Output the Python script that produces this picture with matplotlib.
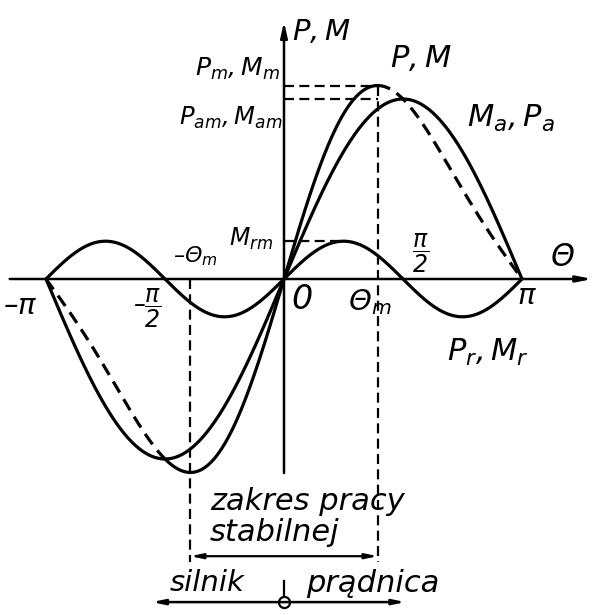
import numpy as np
import matplotlib
matplotlib.use("Agg")
import matplotlib.pyplot as plt

# Amplitudes of the two torque / power components (per unit of M_am)
m_am = 1.0    # main (excitation) component M_a = M_am sin(theta)
m_rm = 0.21   # reluctance component   M_r = M_rm sin(2 theta)

theta = np.linspace(-np.pi, np.pi, 1441)
m_a = m_am * np.sin(theta)
m_r = m_rm * np.sin(2 * theta)
p_tot = m_a + m_r

# angle of maximum of the resulting characteristic
c = (-m_am + np.sqrt(m_am ** 2 + 32 * m_rm ** 2)) / (8 * m_rm)
theta_m = np.arccos(c)
p_m = m_am * np.sin(theta_m) + m_rm * np.sin(2 * theta_m)

plt.rcParams["mathtext.fontset"] = "custom"
plt.rcParams["mathtext.it"] = "DejaVu Sans:italic"
plt.rcParams["mathtext.rm"] = "DejaVu Sans:italic"
plt.rcParams["font.family"] = "DejaVu Sans"

fig = plt.figure(figsize=(5.94, 6.15), dpi=100)
ax = fig.add_axes([0, 0, 1, 1])
ax.set_xlim(-3.7487, 4.092)
ax.set_ylim(-1.8667, 1.55)
ax.axis("off")

K = "black"
LW = 2.3
curve_dash = (0, (4.0, 2.4))
guide_dash = (0, (4.5, 2.4))

# coordinate axes
ax.annotate("", xy=(4.07, 0), xytext=(-3.62, 0),
            arrowprops=dict(arrowstyle="-|>,head_length=0.9,head_width=0.18",
                            lw=1.8, color=K, shrinkA=0, shrinkB=0))
ax.annotate("", xy=(0, 1.43), xytext=(0, -1.078),
            arrowprops=dict(arrowstyle="-|>,head_length=0.9,head_width=0.2",
                            lw=1.8, color=K, shrinkA=0, shrinkB=0))

# component characteristics
ax.plot(theta, m_a, color=K, lw=LW, solid_capstyle="round")
ax.plot(theta, m_r, color=K, lw=LW, solid_capstyle="round")

# resulting characteristic: solid in the stable part, dashed elsewhere
stable = (theta >= -np.pi / 2) & (theta <= theta_m)
left = theta <= -np.pi / 2
right = theta >= theta_m
ax.plot(theta[stable], p_tot[stable], color=K, lw=LW, solid_capstyle="round")
ax.plot(theta[left], p_tot[left], color=K, lw=LW, ls=curve_dash)
ax.plot(theta[right], p_tot[right], color=K, lw=LW, ls=curve_dash)

# guide lines
GL = 1.6
ax.plot([0, theta_m], [p_m, p_m], color=K, lw=GL, ls=guide_dash)
ax.plot([0, theta_m], [m_am, m_am], color=K, lw=GL, ls=guide_dash)
ax.plot([0, np.pi / 4], [m_rm, m_rm], color=K, lw=GL, ls=guide_dash)
ax.plot([theta_m, theta_m], [p_m, -1.575], color=K, lw=GL, ls=guide_dash)
ax.plot([-theta_m, -theta_m], [0, -1.575], color=K, lw=GL, ls=guide_dash)

# range of stable operation
ax.annotate("", xy=(theta_m, -1.54), xytext=(-theta_m, -1.54),
            arrowprops=dict(arrowstyle="<|-|>,head_length=0.7,head_width=0.15",
                            lw=1.6, color=K, shrinkA=0, shrinkB=0))

# motor / generator regions
ax.annotate("", xy=(1.60, -1.795), xytext=(-1.74, -1.795),
            arrowprops=dict(arrowstyle="<|-|>,head_length=0.7,head_width=0.15",
                            lw=1.8, color=K, shrinkA=0, shrinkB=0))
ax.plot([0, 0], [-1.68, -1.77], color=K, lw=1.6)
ax.plot([0.0], [-1.795], marker="o", ms=8, mfc="white", mec=K, mew=1.6)

big = 20
def label(x, y, s, size=big, ha="center", va="center"):
    ax.text(x, y, s, fontsize=size, ha=ha, va=va, style="italic", color=K)

label(0.11, 1.37, "$P,M$", size=21, ha="left")
label(-0.05, 1.165, "$P_m,M_m$", size=18, ha="right")
label(-0.02, 0.895, "$P_{am},M_{am}$", size=17.5, ha="right")
label(1.80, 1.225, "$P,M$", size=22)
label(2.99, 0.89, "$M_a,P_a$", size=22)
label(3.68, 0.12, "$\\Theta$", size=22)
label(-1.17, 0.125, "–$\\Theta_m$", size=16)
label(-0.43, 0.225, "$M_{rm}$", size=17)
label(1.80, 0.14, "$\\dfrac{\\pi}{2}$", size=17)
label(-3.48, -0.15, "–$\\pi$", size=21)
label(-1.80, -0.165, "–$\\dfrac{\\pi}{2}$", size=17)
label(0.24, -0.115, "$0$", size=24)
label(1.13, -0.13, "$\\Theta_m$", size=21)
label(3.21, -0.095, "$\\pi$", size=21)
label(2.69, -0.41, "$P_r,M_r$", size=22)

label(-0.98, -1.235, "zakres pracy", size=22, ha="left")
label(-0.98, -1.41, "stabilnej", size=22, ha="left")
label(-1.01, -1.69, "silnik", size=21)
label(1.17, -1.69, "prądnica", size=22)

fig.savefig("out.png", dpi=100)
